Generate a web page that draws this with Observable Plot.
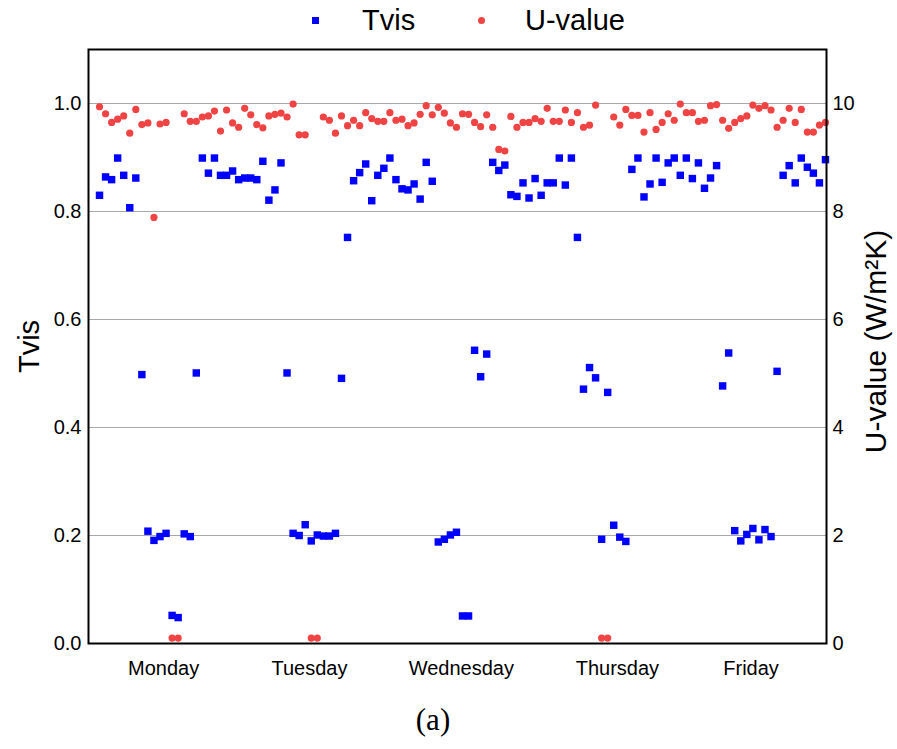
<!DOCTYPE html>
<html>
<head>
<meta charset="utf-8">
<script src="https://cdn.jsdelivr.net/npm/d3@7"></script>
<script src="https://cdn.jsdelivr.net/npm/@observablehq/plot@0.6"></script>
<style>
  html, body { margin: 0; padding: 0; background: white; }
  body { position: relative; width: 897px; height: 749px; overflow: hidden; font-family: "Liberation Sans", Arial, sans-serif; }
  .lg { position: absolute; font-size: 29px; line-height: 1; color: black; white-space: nowrap; }
  .mk { position: absolute; }
  #chart { position: absolute; left: 0; top: 47px; }
  #cap { position: absolute; top: 704px; left: 0; width: 866px; text-align: center; font-family: "Liberation Serif", "Times New Roman", serif; font-size: 31px; line-height: 1; }
</style>
</head>
<body>
<div class="mk" style="left:312px;top:17px;width:7px;height:7px;background:#0000ff;"></div>
<div class="lg" style="left:362px;top:6px;">Tvis</div>
<div class="mk" style="left:478px;top:17px;width:7px;height:7px;border-radius:50%;background:#f04343;"></div>
<div class="lg" style="left:525px;top:6px;">U-value</div>
<div id="chart"></div>
<div id="cap">(a)</div>
<script>
// Hour index (Monday 00:00 = 0 ... Friday end = 120)
const hours = d3.range(121);

const tvis = [
  0.830, 0.864, 0.859, 0.899, 0.867, 0.807, 0.862, 0.498, 0.208, 0.191,
  0.198, 0.204, 0.052, 0.048, 0.203, 0.198, 0.501, 0.899, 0.871, 0.899,
  0.867, 0.867, 0.875, 0.859, 0.862, 0.862, 0.859, 0.893, 0.821, 0.840,
  0.890, 0.501, 0.204, 0.200, 0.220, 0.190, 0.201, 0.199, 0.199, 0.204,
  0.491, 0.752, 0.857, 0.872, 0.888, 0.820, 0.867, 0.880, 0.899, 0.859,
  0.842, 0.840, 0.851, 0.823, 0.891, 0.856, 0.188, 0.193, 0.201, 0.206,
  0.051, 0.051, 0.543, 0.494, 0.536, 0.891, 0.876, 0.886, 0.831, 0.828,
  0.853, 0.825, 0.861, 0.830, 0.853, 0.853, 0.899, 0.849, 0.899, 0.752,
  0.471, 0.511, 0.492, 0.193, 0.465, 0.219, 0.197, 0.189, 0.878, 0.899,
  0.827, 0.851, 0.899, 0.854, 0.890, 0.899, 0.867, 0.899, 0.861, 0.890,
  0.843, 0.862, 0.885, 0.477, 0.538, 0.209, 0.190, 0.202, 0.213, 0.192,
  0.211, 0.198, 0.504, 0.867, 0.885, 0.853, 0.899, 0.882, 0.871, 0.853,
  0.896
];

const uValue = [
  9.94, 9.81, 9.65, 9.71, 9.77, 9.45, 9.89, 9.61, 9.64, 7.89,
  9.62, 9.65, 0.10, 0.10, 9.81, 9.67, 9.67, 9.75, 9.77, 9.86,
  9.49, 9.88, 9.64, 9.56, 9.91, 9.79, 9.61, 9.55, 9.77, 9.80,
  9.82, 9.75, 9.99, 9.42, 9.42, 0.10, 0.10, 9.75, 9.69, 9.45,
  9.77, 9.59, 9.69, 9.59, 9.83, 9.72, 9.67, 9.67, 9.83, 9.69,
  9.71, 9.59, 9.64, 9.80, 9.96, 9.79, 9.93, 9.82, 9.64, 9.56,
  9.81, 9.80, 9.65, 9.57, 9.79, 9.56, 9.15, 9.12, 9.76, 9.56,
  9.65, 9.65, 9.72, 9.67, 9.91, 9.67, 9.67, 9.88, 9.65, 9.83,
  9.56, 9.60, 9.97, 0.10, 0.10, 9.75, 9.60, 9.89, 9.78, 9.78,
  9.47, 9.83, 9.52, 9.65, 9.81, 9.69, 9.99, 9.83, 9.83, 9.67,
  9.69, 9.96, 9.98, 9.69, 9.54, 9.65, 9.72, 9.77, 9.97, 9.91,
  9.96, 9.88, 9.56, 9.69, 9.91, 9.65, 9.89, 9.47, 9.47, 9.60,
  9.65
];

const dayLabels = ["Monday", "Tuesday", "Wednesday", "Thursday", "Friday"];
const dayTickHours = [10.6, 34.7, 59.8, 85.6, 107.7];
const tvisTicks = [0, 0.2, 0.4, 0.6, 0.8, 1.0];
const gridTicks = [0.2, 0.4, 0.6, 0.8, 1.0];

const data = hours.map((h, i) => ({hour: h, tvis: tvis[i], u: uValue[i]}));

const chart = Plot.plot({
  width: 897,
  height: 650,
  marginTop: 2,
  marginBottom: 54,
  marginLeft: 88,
  marginRight: 71,
  style: {fontFamily: "'Liberation Sans', Arial, sans-serif", background: "white", overflow: "visible", color: "black"},
  x: {domain: [-1.82, 120.17], axis: null},
  y: {domain: [0, 1.1], axis: null},
  marks: [
    Plot.ruleY(gridTicks, {stroke: "#a8a8a8", strokeWidth: 1}),
    Plot.axisY(tvisTicks, {anchor: "left", tickSize: 0, tickPadding: 7, tickFormat: d3.format(".1f"), fontSize: 20, label: null}),
    Plot.axisY(tvisTicks, {anchor: "right", tickSize: 0, tickPadding: 6, tickFormat: d => String(Math.round(d * 10)), fontSize: 20, label: null}),
    Plot.axisX(dayTickHours, {anchor: "bottom", tickSize: 0, tickPadding: 17, tickFormat: d => dayLabels[dayTickHours.indexOf(d)], fontSize: 20, label: null}),
    Plot.dot(data, {x: "hour", y: "tvis", symbol: "square", r: 4.2, fill: "#0000ff", stroke: "none"}),
    Plot.dot(data, {x: "hour", y: d => d.u / 10, r: 3.6, fill: "#f04343", stroke: "none"}),
    Plot.frame({stroke: "black", strokeWidth: 2}),
    Plot.text(["Tvis"], {text: d => d, frameAnchor: "left", dx: -59, rotate: -90, textAnchor: "middle", lineAnchor: "middle", fontSize: 29}),
    Plot.text(["U-value (W/m²K)"], {text: d => d, frameAnchor: "right", dx: 50, dy: -5, rotate: -90, textAnchor: "middle", lineAnchor: "middle", fontSize: 30})
  ]
});
document.getElementById("chart").appendChild(chart);
</script>
</body>
</html>
